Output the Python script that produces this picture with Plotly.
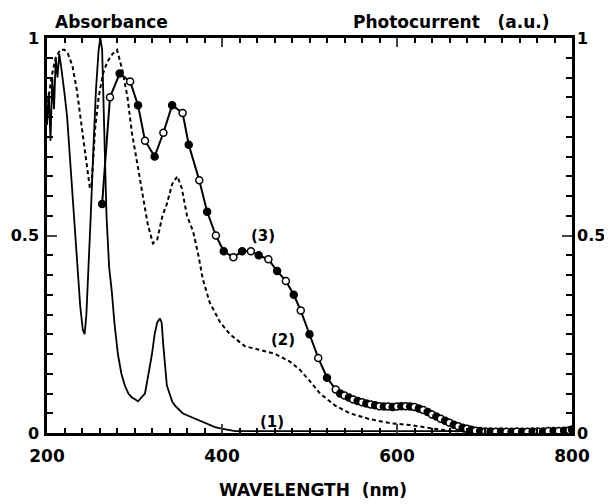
import plotly.graph_objects as go

# ---------------- data ----------------
# Curve (1): absorbance, solid thin line
wl1 = [200, 202, 204, 206, 208, 210, 212, 214, 216, 218, 220, 223, 226, 229, 232, 235,
       238, 241, 243, 245, 247, 250, 253, 256, 259, 261, 263, 265, 268, 271, 274, 277,
       281, 285, 289, 293, 297, 301, 304, 308, 312, 316, 320, 323, 326, 329, 331, 333,
       335, 337, 340, 343, 346, 350, 355, 360, 365, 370, 375, 380, 385, 392, 398, 403,
       408, 411, 415, 420, 440, 460, 500, 550, 600, 650, 700, 750, 800]
abs1 = [0.78, 0.86, 0.74, 0.90, 0.82, 0.95, 0.90, 0.96, 0.93, 0.90, 0.86, 0.80, 0.70, 0.60, 0.50, 0.40,
        0.32, 0.26, 0.25, 0.30, 0.39, 0.55, 0.72, 0.87, 0.97, 1.00, 0.97, 0.80, 0.55, 0.42, 0.36, 0.28,
        0.20, 0.15, 0.12, 0.10, 0.09, 0.085, 0.08, 0.09, 0.10, 0.15, 0.20, 0.25, 0.28, 0.29, 0.28, 0.22,
        0.16, 0.12, 0.10, 0.08, 0.07, 0.06, 0.05, 0.045, 0.04, 0.035, 0.03, 0.025, 0.02, 0.015, 0.012, 0.01,
        0.008, 0.006, 0.005, 0.005, 0.005, 0.005, 0.005, 0.005, 0.005, 0.005, 0.005, 0.005, 0.005]

# Curve (2): absorbance, dashed line
wl2 = [200, 205, 210, 215, 220, 224, 229, 234, 240, 244, 247, 249, 251, 253, 255, 259,
       264, 269, 275, 280, 286, 292, 297, 301, 305, 310, 315, 321, 326, 332, 337, 343,
       349, 354, 360, 367, 373, 378, 386, 398, 409, 426, 443, 461, 478, 489, 501, 512,
       529, 546, 569, 592, 615, 638, 661, 695, 730, 800]
abs2 = [0.82, 0.90, 0.95, 0.97, 0.97, 0.96, 0.93, 0.87, 0.77, 0.70, 0.65, 0.62, 0.63, 0.70, 0.77, 0.85,
        0.91, 0.94, 0.96, 0.97, 0.92, 0.85, 0.76, 0.71, 0.66, 0.60, 0.53, 0.48, 0.49, 0.55, 0.58, 0.63,
        0.65, 0.62, 0.55, 0.51, 0.45, 0.39, 0.33, 0.28, 0.25, 0.22, 0.21, 0.20, 0.18, 0.16, 0.13, 0.10,
        0.07, 0.05, 0.035, 0.025, 0.02, 0.012, 0.005, 0.002, 0.001, 0.0]

# Curve (3): photocurrent, line with circles
wl3 = [263, 272, 283, 295, 304, 312, 323, 333, 343, 355, 362, 374, 383, 393, 402, 413,
       423, 433, 442, 453, 463, 473, 482, 490, 500, 510, 520, 530, 535, 540, 545, 550,
       555, 560, 565, 570, 575, 580, 585, 590, 595, 600, 605, 610, 615, 620, 625, 630,
       635, 640, 645, 650, 655, 660, 665, 670, 675, 680, 685, 690, 695, 701, 707, 713,
       719, 725, 731, 737, 743, 749, 755, 761, 767, 773, 779, 785, 791, 797, 800]
pc3 = [0.58, 0.85, 0.91, 0.89, 0.83, 0.74, 0.70, 0.76, 0.83, 0.81, 0.73, 0.64, 0.56, 0.50, 0.46, 0.445,
       0.46, 0.46, 0.45, 0.44, 0.41, 0.385, 0.35, 0.31, 0.25, 0.19, 0.14, 0.11, 0.10, 0.095, 0.09, 0.085,
       0.081, 0.078, 0.075, 0.072, 0.070, 0.068, 0.067, 0.067, 0.066, 0.067, 0.068, 0.068, 0.067, 0.066, 0.062, 0.058,
       0.053, 0.047, 0.042, 0.036, 0.031, 0.026, 0.021, 0.017, 0.013, 0.011, 0.008, 0.006, 0.005, 0.004, 0.004, 0.003,
       0.004, 0.003, 0.003, 0.004, 0.003, 0.003, 0.004, 0.004, 0.004, 0.005, 0.005, 0.005, 0.006, 0.007, 0.009]

x_ticks = [200, 400, 600, 800]
y_ticks = [0, 0.5, 1]
y_ticktext = ["0", "0.5", "1"]
curve_labels = ["(1)", "(2)", "(3)"]
label_pos_x = [457, 470, 447]
label_pos_y = [0.028, 0.235, 0.50]

# ---------------- figure ----------------
FONT = "DejaVu Sans"
fig = go.Figure()

fig.add_trace(go.Scatter(x=wl1, y=abs1, mode="lines",
                         line=dict(color="black", width=1.8), showlegend=False))
fig.add_trace(go.Scatter(x=wl2, y=abs2, mode="lines",
                         line=dict(color="black", width=2, dash="4px,3px"), showlegend=False))
fill = ["black" if i % 2 == 0 else "white" for i in range(len(wl3))]
fig.add_trace(go.Scatter(x=wl3, y=pc3, mode="lines+markers",
                         line=dict(color="black", width=2),
                         marker=dict(symbol="circle", size=7, color=fill,
                                     line=dict(color="black", width=1.5)),
                         showlegend=False))

xtickfont = dict(family=FONT, size=17, color="black", weight="bold")
ytickfont = dict(family=FONT, size=16, color="black", weight="bold")
labfont = dict(family=FONT, size=17, color="black", weight="bold")

# the page body adds an 8px offset, so the figure is 604x496 to fill the window
fig.update_layout(
    width=604, height=496,
    margin=dict(l=39, r=40, t=30, b=71),
    paper_bgcolor="white", plot_bgcolor="white",
    xaxis=dict(range=[200, 800], tickvals=x_ticks, ticks="inside", ticklen=9, tickwidth=2,
               showline=True, linewidth=2.5, linecolor="black", mirror="ticks", automargin=False,
               showgrid=False, zeroline=False, tickfont=xtickfont, ticklabelstandoff=6,
               minor=dict(dtick=20, ticks="inside", ticklen=5, tickwidth=1.5, tickcolor="black", showgrid=False)),
    yaxis=dict(range=[0, 1], tickvals=y_ticks, ticktext=y_ticktext, ticks="inside", ticklen=10, tickwidth=2,
               showline=True, linewidth=2.5, linecolor="black", mirror="ticks", automargin=False,
               showgrid=False, zeroline=False, tickfont=ytickfont, ticklabelstandoff=2,
               minor=dict(dtick=0.05, ticks="inside", ticklen=6, tickwidth=1.5, tickcolor="black", showgrid=False)),
    yaxis2=dict(range=[0, 1], tickvals=y_ticks, ticktext=y_ticktext, overlaying="y", side="right",
                showline=False, ticks="", showgrid=False, zeroline=False, tickfont=ytickfont,
                automargin=False, ticklabelstandoff=4),
)

# invisible trace to activate the right axis
fig.add_trace(go.Scatter(x=[200], y=[0], yaxis="y2", mode="markers",
                         marker=dict(opacity=0), showlegend=False, hoverinfo="skip"))

for t, xx, yy in zip(curve_labels, label_pos_x, label_pos_y):
    fig.add_annotation(x=xx, y=yy, text=t, showarrow=False,
                       font=dict(family=FONT, size=15, color="black", weight="bold"))

fig.add_annotation(xref="paper", yref="paper", x=0, y=1.0, xshift=6, yshift=16,
                   xanchor="left", yanchor="middle",
                   text="Absorbance", showarrow=False, font=labfont)
fig.add_annotation(xref="paper", yref="paper", x=1, y=1.0, xshift=-20, yshift=16,
                   xanchor="right", yanchor="middle",
                   text="Photocurrent&nbsp;&nbsp;&nbsp;(a.u.)", showarrow=False, font=labfont)
fig.add_annotation(xref="paper", yref="paper", x=0.5, y=0, xshift=3, yshift=-57,
                   xanchor="center", yanchor="middle",
                   text="WAVELENGTH&nbsp;&nbsp;(nm)", showarrow=False, font=labfont)

fig.write_html("out.html")
